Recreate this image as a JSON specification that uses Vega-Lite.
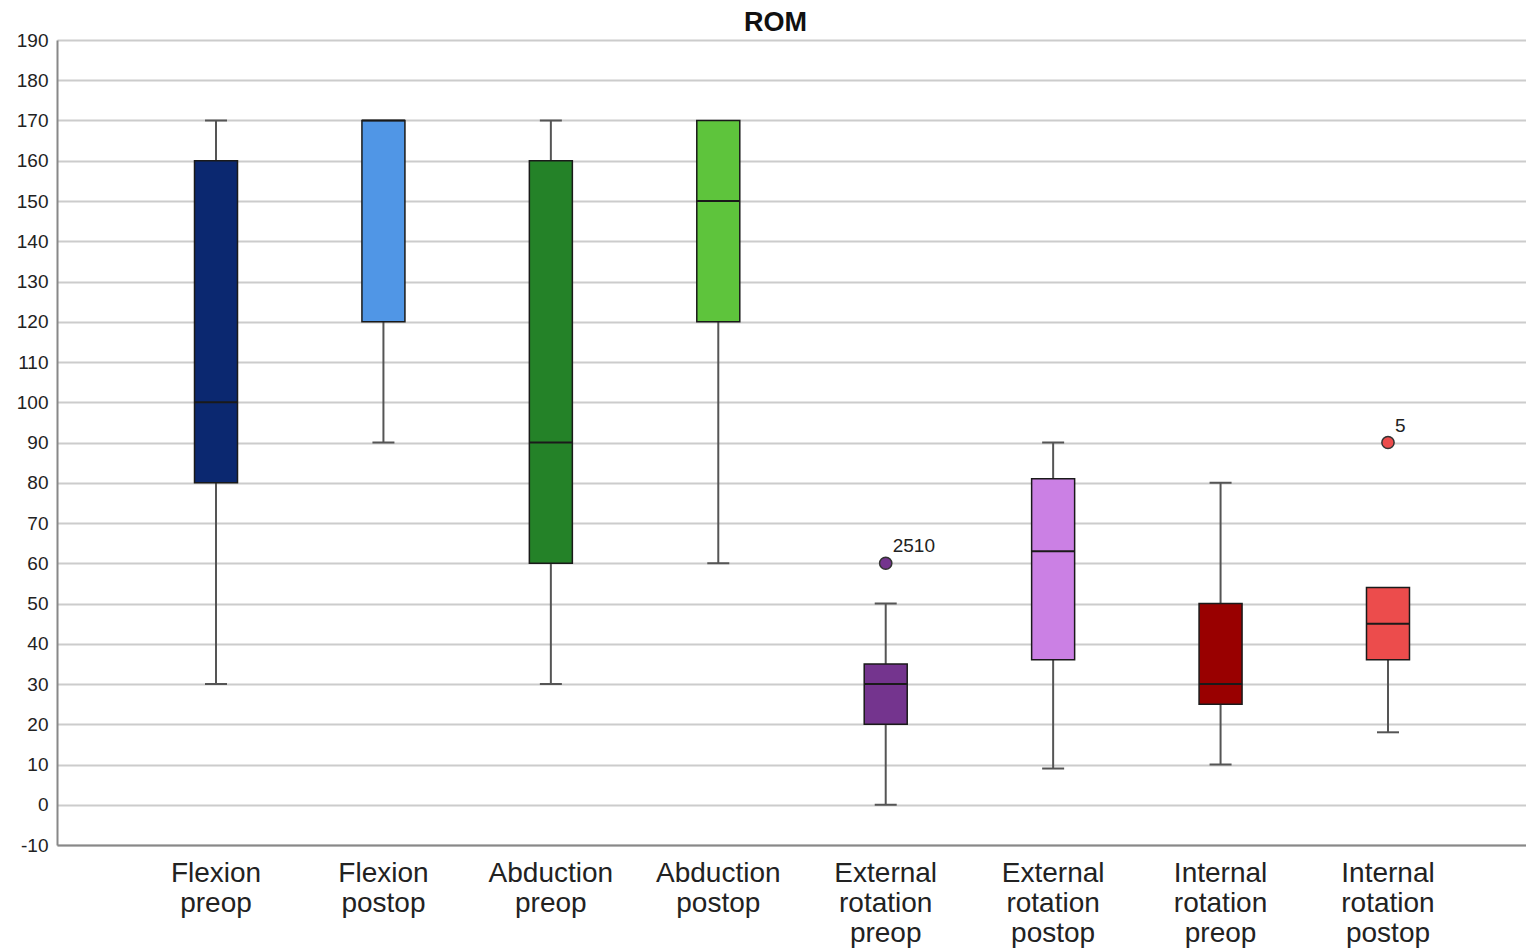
{
  "$schema": "https://vega.github.io/schema/vega-lite/v6.json",
  "width": 1469,
  "height": 805,
  "autosize": {"type": "none"},
  "padding": {"left": 57, "top": 40, "right": 0, "bottom": 105},
  "background": "white",
  "title": {"text": "ROM", "font": "Liberation Sans", "fontSize": 27, "fontWeight": "bold", "color": "#111111", "anchor": "middle", "frame": "group", "dx": -16, "dy": 13, "offset": 7},
  "datasets": {
    "boxes": [
      {"cat": "Flexion preop", "min": 30, "q1": 80, "median": 100, "q3": 160, "max": 170},
      {"cat": "Flexion postop", "min": 90, "q1": 120, "median": 170, "q3": 170, "max": 170},
      {"cat": "Abduction preop", "min": 30, "q1": 60, "median": 90, "q3": 160, "max": 170},
      {"cat": "Abduction postop", "min": 60, "q1": 120, "median": 150, "q3": 170, "max": 170},
      {"cat": "External rotation preop", "min": 0, "q1": 20, "median": 30, "q3": 35, "max": 50},
      {"cat": "External rotation postop", "min": 9, "q1": 36, "median": 63, "q3": 81, "max": 90},
      {"cat": "Internal rotation preop", "min": 10, "q1": 25, "median": 30, "q3": 50, "max": 80},
      {"cat": "Internal rotation postop", "min": 18, "q1": 36, "median": 45, "q3": 54, "max": 54}
    ],
    "outliers": [
      {"cat": "External rotation preop", "value": 60, "label": "2510"},
      {"cat": "Internal rotation postop", "value": 90, "label": "5"}
    ]
  },
  "data": {"name": "boxes"},
  "encoding": {
    "x": {
      "field": "cat", "type": "nominal", "sort": null,
      "scale": {
        "domain": ["Flexion preop", "Flexion postop", "Abduction preop", "Abduction postop", "External rotation preop", "External rotation postop", "Internal rotation preop", "Internal rotation postop"],
        "paddingInner": 0, "paddingOuter": 0.387, "align": 0.581
      },
      "axis": {
        "title": null, "labelAngle": 0, "labelExpr": "split(datum.label, ' ')",
        "labelFont": "Liberation Sans", "labelFontSize": 28, "labelLineHeight": 30, "labelColor": "#222222",
        "labelPadding": 14, "ticks": false, "domainColor": "#888888", "domainWidth": 2, "grid": false, "labelBaseline": "top"
      }
    }
  },
  "layer": [
    {
      "mark": {"type": "rule", "color": "#555555", "strokeWidth": 2},
      "encoding": {
        "y": {"field": "min", "type": "quantitative",
          "scale": {"domain": [-10, 190], "nice": false, "zero": false},
          "axis": {"title": null, "values": [-10, 0, 10, 20, 30, 40, 50, 60, 70, 80, 90, 100, 110, 120, 130, 140, 150, 160, 170, 180, 190],
            "labelExpr": "'' + datum.value",
            "labelFont": "Liberation Sans", "labelFontSize": 19, "labelColor": "#222222", "labelPadding": 9, "ticks": false,
            "domainColor": "#888888", "domainWidth": 2, "grid": true, "gridColor": "#cccccc", "gridWidth": 2}},
        "y2": {"field": "q1"}
      }
    },
    {
      "mark": {"type": "rule", "color": "#555555", "strokeWidth": 2},
      "encoding": {
        "y": {"field": "q3", "type": "quantitative"},
        "y2": {"field": "max"}
      }
    },
    {
      "mark": {"type": "bar", "width": 43, "stroke": "#1a1a1a", "strokeWidth": 1.5},
      "encoding": {
        "y": {"field": "q1", "type": "quantitative"},
        "y2": {"field": "q3"},
        "color": {"field": "cat", "type": "nominal", "legend": null,
          "scale": {"domain": ["Flexion preop", "Flexion postop", "Abduction preop", "Abduction postop", "External rotation preop", "External rotation postop", "Internal rotation preop", "Internal rotation postop"],
            "range": ["#0b2870", "#5096e6", "#248228", "#5ec43c", "#74348e", "#cb80e4", "#990000", "#ec4c4c"]}}
      }
    },
    {
      "mark": {"type": "tick", "size": 43, "thickness": 2, "color": "#1a1a1a", "opacity": 1},
      "encoding": {"y": {"field": "median", "type": "quantitative"}}
    },
    {
      "mark": {"type": "tick", "size": 22, "thickness": 2, "color": "#555555", "opacity": 1},
      "encoding": {"y": {"field": "min", "type": "quantitative"}}
    },
    {
      "transform": [{"filter": "datum.max > datum.q3"}],
      "mark": {"type": "tick", "size": 22, "thickness": 2, "color": "#555555", "opacity": 1},
      "encoding": {"y": {"field": "max", "type": "quantitative"}}
    },
    {
      "data": {"name": "outliers"},
      "mark": {"type": "point", "filled": true, "size": 150, "stroke": "#333333", "strokeWidth": 1.5, "opacity": 1},
      "encoding": {
        "y": {"field": "value", "type": "quantitative"},
        "color": {"field": "cat", "type": "nominal", "legend": null}
      }
    },
    {
      "data": {"name": "outliers"},
      "mark": {"type": "text", "align": "left", "baseline": "alphabetic", "dx": 7, "dy": -11, "font": "Liberation Sans", "fontSize": 19, "color": "#222222"},
      "encoding": {
        "y": {"field": "value", "type": "quantitative"},
        "text": {"field": "label"}
      }
    }
  ],
  "config": {"view": {"stroke": null}}
}
